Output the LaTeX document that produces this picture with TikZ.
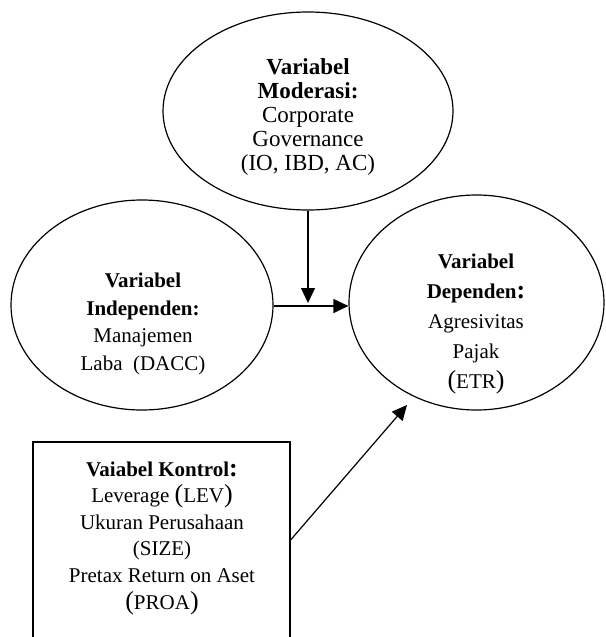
\documentclass[tikz,border=0pt]{standalone}
\usepackage{fontspec}
\setmainfont{Liberation Serif}
\usetikzlibrary{arrows.meta,shapes.geometric,calc}
\newcommand\bgp[1]{{\fontsize{26}{26}\selectfont #1}}
\begin{document}
\begin{tikzpicture}[x=1pt,y=-1pt,
  ell/.style={draw, ellipse, line width=1.2pt, inner sep=0pt},
  arr/.style={line width=1.2pt, -{Triangle[length=15pt,width=14pt]}},
  txt/.style={align=center, inner sep=0pt}]
\useasboundingbox (0,0) rectangle (605,637);
\clip (0,0) rectangle (605,637);
% shapes
\node[ell, minimum width=290pt, minimum height=198pt] (mod) at (308,111) {};
\node[ell, minimum width=262pt, minimum height=210pt] (ind) at (142,305) {};
\node[ell, minimum width=255pt, minimum height=215pt] (dep) at (476.5,302.5) {};
\node[draw, line width=1.2pt, minimum width=257pt, minimum height=220pt, inner sep=0pt] (ctrl) at (161.5,552) {};
% texts
\node[txt, font=\fontsize{23}{24.2}\selectfont] (modt) at (308,117)
  {\textbf{Variabel}\\\textbf{Moderasi:}\\Corporate\\Governance\\(IO, IBD, AC)};
\node[txt, font=\fontsize{21}{27.5}\selectfont] (indt) at (143,324)
  {\textbf{Variabel}\\\textbf{Independen:}\\Manajemen\\Laba\ \ (DACC)};
\node[txt, font=\fontsize{21}{30}\selectfont] (dept) at (476,324)
  {\textbf{Variabel}\\\textbf{Dependen\bgp{:}}\\Agresivitas\\Pajak\\\bgp{(}ETR\bgp{)}};
\node[txt, font=\fontsize{21}{26.6}\selectfont] (ctrlt) at (162,538)
  {\textbf{Vaiabel Kontrol\bgp{:}}\\Leverage \bgp{(}LEV\bgp{)}\\Ukuran Perusahaan\\(SIZE)\\Pretax Return on Aset\\\bgp{(}PROA\bgp{)}};
% connectors
\coordinate (jn) at (308,306);
\coordinate (dt) at (407,405);
\draw[arr] (ind.east |- jn) -- (dep.west |- jn);
\draw[arr] (mod.south) -- ([yshift=3pt]jn);
\draw[arr] ([yshift=12pt]ctrl.east) -- (dt);
\end{tikzpicture}
\end{document}
